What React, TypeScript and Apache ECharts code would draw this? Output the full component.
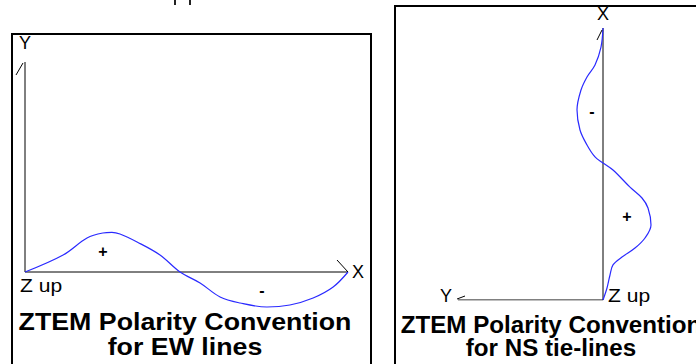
import React, { useEffect, useRef } from "react";
import * as echarts from "echarts";

// EW line profile: distance along line (0..100) vs field amplitude
const EW_DIST = [0, 11.8, 19.2, 24.1, 26.9, 29.4, 34.7, 41.8, 48, 54.2, 60.4, 66.6, 74.9, 82, 89.2, 95.4, 100];
const EW_AMP = [0, 0.425, 0.85, 0.975, 0.99, 0.95, 0.75, 0.425, 0, -0.275, -0.625, -0.775, -0.875, -0.825, -0.65, -0.375, 0];

// NS tie-line profile: distance along line (0..100, upward) vs amplitude
const NS_DIST = [100, 93, 86.4, 82, 77.2, 69.9, 62.5, 57, 52.6, 50.4, 47.8, 41.5, 37.5, 33.8, 27.6, 22.8, 19.1, 15.8, 12.9, 9.2, 4.4, 0];
const NS_AMP = [0, -0.05, -0.2, -0.4, -0.55, -0.65, -0.575, -0.4, -0.2, 0, 0.25, 0.675, 0.975, 1.125, 1.2, 1.05, 0.8, 0.475, 0.25, 0.175, 0.1, 0];

// axis extents (data units)
const EW_X_AXIS = [[0, 0], [100, 0]];
const EW_Y_AXIS = [[0, 0], [0, 5.25]];
const NS_X_AXIS = [[0, 0], [0, 100]];
const NS_Y_AXIS = [[0, 0], [-3.625, 0]];

const TITLE_1 = "ZTEM Polarity Convention";
const TITLE_EW = "for EW lines";
const TITLE_NS = "for NS tie-lines";

const FONT = "'Liberation Sans', Arial, sans-serif";
const BLUE = "#2a2aff";

export default function App() {
  const ref = useRef<HTMLDivElement>(null);
  useEffect(() => {
    if (!ref.current) return;
    const chart = echarts.init(ref.current, null, { renderer: "svg" });
    const txt = (text: string, x: number, y: number, opts: any = {}) => ({
      type: "text",
      x,
      y,
      scaleX: opts.scaleX ?? 1,
      style: {
        text,
        x: 0,
        y: 0,
        fill: "#000",
        font: `${opts.bold ? "bold " : ""}${opts.size ?? 18}px ${FONT}`,
        align: opts.align ?? "center",
        verticalAlign: "middle",
      },
      z: 10,
    });
    const ln = (x1: number, y1: number, x2: number, y2: number) => ({
      type: "line",
      shape: { x1, y1, x2, y2 },
      style: { stroke: "#000", lineWidth: 1 },
      z: 10,
    });
    const axisLine = (data: number[][], idx: number) => ({
      type: "line",
      xAxisIndex: idx,
      yAxisIndex: idx,
      data,
      symbol: "none",
      lineStyle: { color: "#000", width: 1 },
      silent: true,
      z: 1,
    });
    chart.setOption({
      animation: false,
      backgroundColor: "#fff",
      grid: [
        { left: 25, top: 62, width: 323, height: 250 },
        { left: 443, top: 28, width: 220, height: 272 },
      ],
      xAxis: [
        { gridIndex: 0, type: "value", min: 0, max: 100, show: false },
        { gridIndex: 1, type: "value", min: -4, max: 1.5, show: false },
      ],
      yAxis: [
        { gridIndex: 0, type: "value", min: -1, max: 5.25, show: false },
        { gridIndex: 1, type: "value", min: 0, max: 100, show: false },
      ],
      series: [
        axisLine(EW_X_AXIS, 0),
        axisLine(EW_Y_AXIS, 0),
        axisLine(NS_X_AXIS, 1),
        axisLine(NS_Y_AXIS, 1),
        {
          type: "line",
          xAxisIndex: 0,
          yAxisIndex: 0,
          data: EW_DIST.map((d, i) => [d, EW_AMP[i]]),
          symbol: "none",
          smooth: 0.35,
          lineStyle: { color: BLUE, width: 1.2 },
          z: 3,
        },
        {
          type: "line",
          xAxisIndex: 1,
          yAxisIndex: 1,
          data: NS_DIST.map((d, i) => [NS_AMP[i], d]),
          symbol: "none",
          smooth: 0.35,
          lineStyle: { color: BLUE, width: 1.2 },
          z: 3,
        },
      ],
      graphic: [
        { type: "rect", shape: { x: 12, y: 34, width: 359, height: 340 }, style: { fill: "none", stroke: "#000", lineWidth: 2 } },
        { type: "rect", shape: { x: 395, y: 6, width: 320, height: 370 }, style: { fill: "none", stroke: "#000", lineWidth: 2 } },
        { type: "rect", shape: { x: 174, y: 0, width: 2, height: 5 }, style: { fill: "#222" } },
        { type: "rect", shape: { x: 189, y: 0, width: 2, height: 5 }, style: { fill: "#222" } },
        ln(16, 75, 23, 63),
        ln(337, 260, 348, 272),
        ln(597, 40, 602, 30),
        ln(457, 299, 465, 296),
        txt("Y", 25, 43),
        txt("X", 358, 272),
        txt("Z up", 20, 286, { align: "left", scaleX: 1.17 }),
        txt("+", 103, 251, { bold: true, size: 16 }),
        txt("-", 262, 290, { bold: true, size: 16 }),
        txt(TITLE_1, 185, 321.5, { bold: true, size: 24, scaleX: 1.115 }),
        txt(TITLE_EW, 185, 347, { bold: true, size: 24, scaleX: 1.115 }),
        txt("X", 603, 14),
        txt("Y", 446, 296),
        txt("Z up", 608, 296, { align: "left", scaleX: 1.17 }),
        txt("-", 592, 111, { bold: true, size: 16 }),
        txt("+", 627, 216, { bold: true, size: 16 }),
        txt(TITLE_1, 551, 325.5, { bold: true, size: 23, scaleX: 1.05 }),
        txt(TITLE_NS, 551, 348.5, { bold: true, size: 23, scaleX: 1.05 }),
      ],
    });
    return () => chart.dispose();
  }, []);
  return (
    <div
      ref={ref}
      style={{ position: "fixed", left: 0, top: 0, width: 696, height: 364, background: "#fff" }}
    />
  );
}
